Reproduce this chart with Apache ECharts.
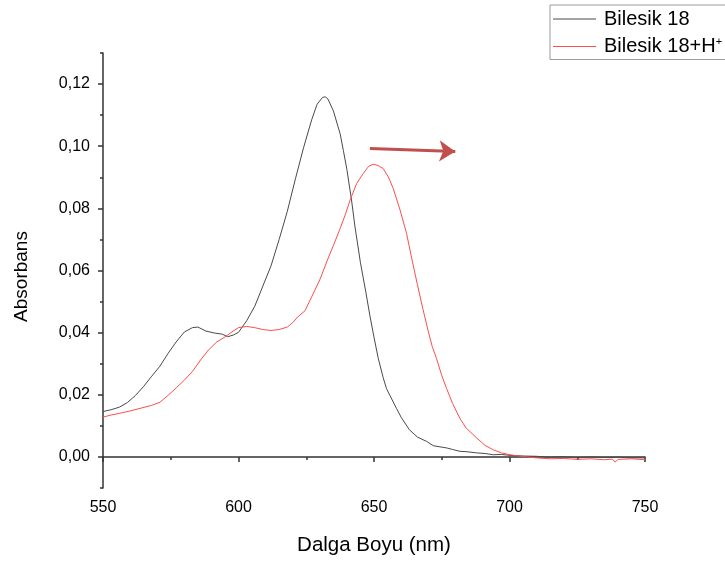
<!DOCTYPE html>
<html>
<head>
<meta charset="utf-8">
<script src="https://cdn.jsdelivr.net/npm/echarts@6/dist/echarts.min.js"></script>
<style>html,body{margin:0;padding:0;background:#fff}#c{width:725px;height:561px}</style>
</head>
<body>
<div id="c"></div>
<script>
const xTicks = [550, 600, 650, 700, 750];
const yMajorTicks = [0, 0.02, 0.04, 0.06, 0.08, 0.10, 0.12];
const yMinorTicks = [-0.01, 0.01, 0.03, 0.05, 0.07, 0.09, 0.11, 0.13];

const seriesNames = ['Bilesik 18', 'Bilesik 18+H+'];
const seriesColors = ['#4a4a4a', '#ff4d4d'];

const wlBlack = [550,553,556,559,562,565,568,571,574,577,580,583,585,588,591,594,596,598,600,603,606,609,612,615,618,621,624,627,629,631,632,633,635,637.5,638.7,640,641.7,643,645,647,648.5,650,651.6,653.4,654.6,658.3,660,663,666,669.4,671.9,674,676.8,679,681.7,684,687.9,691,694,697,700.2,705,710,715,720,725,730,735,740,745,750];
const absBlack = [0.0146,0.0152,0.016,0.0175,0.0198,0.0227,0.026,0.0292,0.0333,0.037,0.0402,0.0416,0.0418,0.0405,0.0399,0.0395,0.0387,0.0392,0.0401,0.0438,0.0485,0.055,0.0615,0.07,0.079,0.0895,0.0995,0.1085,0.1135,0.1157,0.1159,0.1152,0.1114,0.104,0.0986,0.0925,0.0827,0.074,0.0625,0.053,0.0454,0.0385,0.0316,0.0255,0.022,0.0156,0.0128,0.0088,0.0064,0.005,0.0036,0.0033,0.0029,0.0024,0.0018,0.0017,0.0013,0.0011,0.0007,0.0008,0.0005,0.0003,0.0002,-0.0001,0.0001,-0.0003,0.0,-0.0002,-0.0001,-0.0003,-0.0003];

const wlRed = [550,553,556,560,564,568,571,574,577,580,583,586,589,592,595,598,600,603,606,609,612,615,618,620,622,624.5,627,630,633.1,635,637.5,639.5,641.2,643.6,646,648,649.7,651.5,653.4,655.3,657.1,659.6,662,663.9,666,668,670,671.5,673.1,675,676.8,679,681.7,684,687.9,691,694,697,700.2,705,710,715,720,725,730,735,738,739,740,745,750];
const absRed = [0.0128,0.0135,0.014,0.0148,0.0157,0.0166,0.0176,0.0198,0.0222,0.0247,0.0275,0.0312,0.0345,0.037,0.0386,0.0405,0.0416,0.042,0.0416,0.041,0.0407,0.041,0.0418,0.0432,0.0452,0.047,0.0515,0.057,0.064,0.068,0.0735,0.0782,0.0827,0.088,0.0912,0.0935,0.0942,0.0938,0.0928,0.0901,0.0864,0.0795,0.072,0.064,0.0555,0.0478,0.0405,0.0355,0.0316,0.0262,0.022,0.0172,0.0124,0.0093,0.0061,0.0037,0.0023,0.0013,0.0007,0.0001,-0.0003,-0.0006,-0.0005,-0.0008,-0.0006,-0.0009,-0.0007,-0.0017,-0.0008,-0.0006,-0.0009];

const arrowStart = [648.5, 0.0993];
const arrowEnd = [680, 0.0983];

const FONT = '"Liberation Sans", Arial, sans-serif';
const zip = (a, b) => a.map((v, i) => [v, b[i]]);
const fmt = v => (Math.round(v * 100) / 100).toFixed(2).replace('.', ',');

const chart = echarts.init(document.getElementById('c'), null, {renderer: 'canvas'});
chart.setOption({
  animation: false,
  backgroundColor: '#fff',
  grid: {left: 103, right: 80, top: 53, bottom: 69, containLabel: false},
  legend: {
    orient: 'vertical', left: 550, top: 5,
    padding: [4, 40, 3, 3],
    icon: 'rect',
    itemWidth: 43, itemHeight: 1, itemGap: 7,
    borderColor: '#9a9a9a', borderWidth: 1,
    textStyle: {fontFamily: FONT, fontSize: 20, color: '#000', padding: [0, 0, 0, 3],
      rich: {sup: {fontFamily: FONT, fontSize: 11, color: '#000', verticalAlign: 'top', padding: [0,0,10,0]}}},
    formatter: n => n === 'Bilesik 18+H+' ? 'Bilesik 18+H{sup|+}' : n,
    data: seriesNames.map((n, i) => ({name: n, itemStyle: {color: seriesColors[i]}}))
  },
  xAxis: {
    type: 'value', min: 550, max: 750, interval: 50,
    name: 'Dalga Boyu (nm)', nameLocation: 'middle', nameGap: 47,
    nameTextStyle: {fontFamily: FONT, fontSize: 20.5, color: '#000'},
    axisLine: {lineStyle: {color: '#333', width: 1.5}},
    axisTick: {show: true, length: 5, lineStyle: {color: '#333', width: 1.5}},
    minorTick: {show: true, splitNumber: 2, length: 3, lineStyle: {color: '#333', width: 1.5}},
    axisLabel: {fontFamily: FONT, fontSize: 16, color: '#000', margin: 12, customValues: xTicks},
    splitLine: {show: false}
  },
  yAxis: [{
    type: 'value', min: -0.01, max: 0.13,
    name: 'Absorbans', nameLocation: 'middle', nameGap: 72,
    nameTextStyle: {fontFamily: FONT, fontSize: 19, color: '#000', padding: [0, 12, 0, 0]},
    axisLine: {show: true, lineStyle: {color: '#333', width: 1.5}},
    axisTick: {show: true, length: 5, customValues: yMajorTicks, lineStyle: {color: '#333', width: 1.5}},
    axisLabel: {fontFamily: FONT, fontSize: 16, color: '#000', margin: 13, customValues: yMajorTicks, formatter: fmt},
    splitLine: {show: false}
  }, {
    type: 'value', min: -0.01, max: 0.13, position: 'left', offset: 0,
    axisLine: {show: false},
    axisTick: {show: true, length: 3, customValues: yMinorTicks, lineStyle: {color: '#333', width: 1.5}},
    axisLabel: {show: false},
    splitLine: {show: false}
  }],
  series: [{
    name: seriesNames[0], type: 'line', symbol: 'none', yAxisIndex: 0,
    data: zip(wlBlack, absBlack),
    lineStyle: {color: seriesColors[0], width: 1}, itemStyle: {color: seriesColors[0]},
    markLine: {
      silent: true, symbol: ['none', 'arrow'], symbolSize: 16,
      label: {show: false},
      lineStyle: {color: '#c0504d', width: 3, type: 'solid'},
      data: [[{coord: arrowStart}, {coord: arrowEnd}]]
    }
  }, {
    name: seriesNames[1], type: 'line', symbol: 'none', yAxisIndex: 0,
    data: zip(wlRed, absRed),
    lineStyle: {color: seriesColors[1], width: 1}, itemStyle: {color: seriesColors[1]}
  }]
});
</script>
</body>
</html>
